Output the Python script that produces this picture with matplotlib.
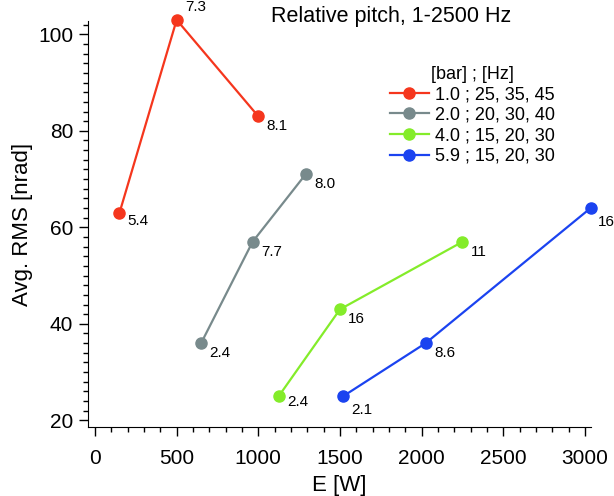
import matplotlib
matplotlib.use("Agg")
import matplotlib.pyplot as plt
from matplotlib.ticker import MultipleLocator

plt.rcParams['font.family'] = ['Liberation Sans', 'DejaVu Sans']

# data
series_labels = ['1.0 ; 25, 35, 45', '2.0 ; 20, 30, 40', '4.0 ; 15, 20, 30', '5.9 ; 15, 20, 30']
power_red = [150, 500, 1000]
rms_red = [63, 103, 83]
note_red = ['5.4', '7.3', '8.1']
power_gray = [650, 965, 1290]
rms_gray = [36, 57, 71]
note_gray = ['2.4', '7.7', '8.0']
power_green = [1125, 1500, 2250]
rms_green = [25, 43, 57]
note_green = ['2.4', '16', '11']
power_blue = [1520, 2025, 3035]
rms_blue = [25, 36, 64]
note_blue = ['2.1', '8.6', '16']

colors = ['#f5361d', '#788a8c', '#84ec2a', '#1b43f0']

# label offsets in points (style only)
offsets = [
    [(6, -1), (6, 4.5), (6, -2)],
    [(6, -2), (6, -2), (6, -2)],
    [(6, 1), (6, -2), (6, -2)],
    [(6, -5), (6, -2), (5, -5)],
]

fig = plt.figure(figsize=(6.14, 4.96), dpi=100)
ax = fig.add_axes([0.143, 0.139, 0.819, 0.819])

all_x = [power_red, power_gray, power_green, power_blue]
all_y = [rms_red, rms_gray, rms_green, rms_blue]
all_notes = [note_red, note_gray, note_green, note_blue]

for i in range(4):
    ax.plot(all_x[i], all_y[i], '-o', color=colors[i], lw=1.6, ms=8,
            label=series_labels[i], clip_on=False, zorder=3)
    for x, y, s, off in zip(all_x[i], all_y[i], all_notes[i], offsets[i]):
        va = 'bottom' if off[1] > 3 else 'top'
        ax.annotate(s, (x, y), xytext=off, textcoords='offset points',
                    ha='left', va=va, fontsize=11, annotation_clip=False)

ax.set_xlim(-44, 3035)
ax.set_ylim(18.6, 102.8)
ax.xaxis.set_major_locator(MultipleLocator(500))
ax.xaxis.set_minor_locator(MultipleLocator(100))
ax.yaxis.set_major_locator(MultipleLocator(20))
ax.yaxis.set_minor_locator(MultipleLocator(2))
ax.spines['top'].set_visible(False)
ax.spines['right'].set_visible(False)
ax.tick_params(which='major', length=6.5, width=1, labelsize=15)
ax.tick_params(axis='x', which='major', pad=9)
ax.tick_params(axis='y', which='major', pad=4)
ax.tick_params(which='minor', length=3.5, width=1)

ax.set_xlabel('E [W]', fontsize=16, labelpad=5)
ax.set_ylabel('Avg. RMS [nrad]', fontsize=16, labelpad=4)
fig.text(0.637, 0.967, 'Relative pitch, 1-2500 Hz', ha='center', va='center', fontsize=15.5)

leg = ax.legend(title='[bar] ; [Hz]', frameon=False, fontsize=13, title_fontsize=13,
                loc='upper left', bbox_to_anchor=(0.6, 0.89),
                handlelength=2.2, handletextpad=0.3, labelspacing=0.2,
                borderaxespad=0, borderpad=0)

fig.savefig('out.png', dpi=100)
